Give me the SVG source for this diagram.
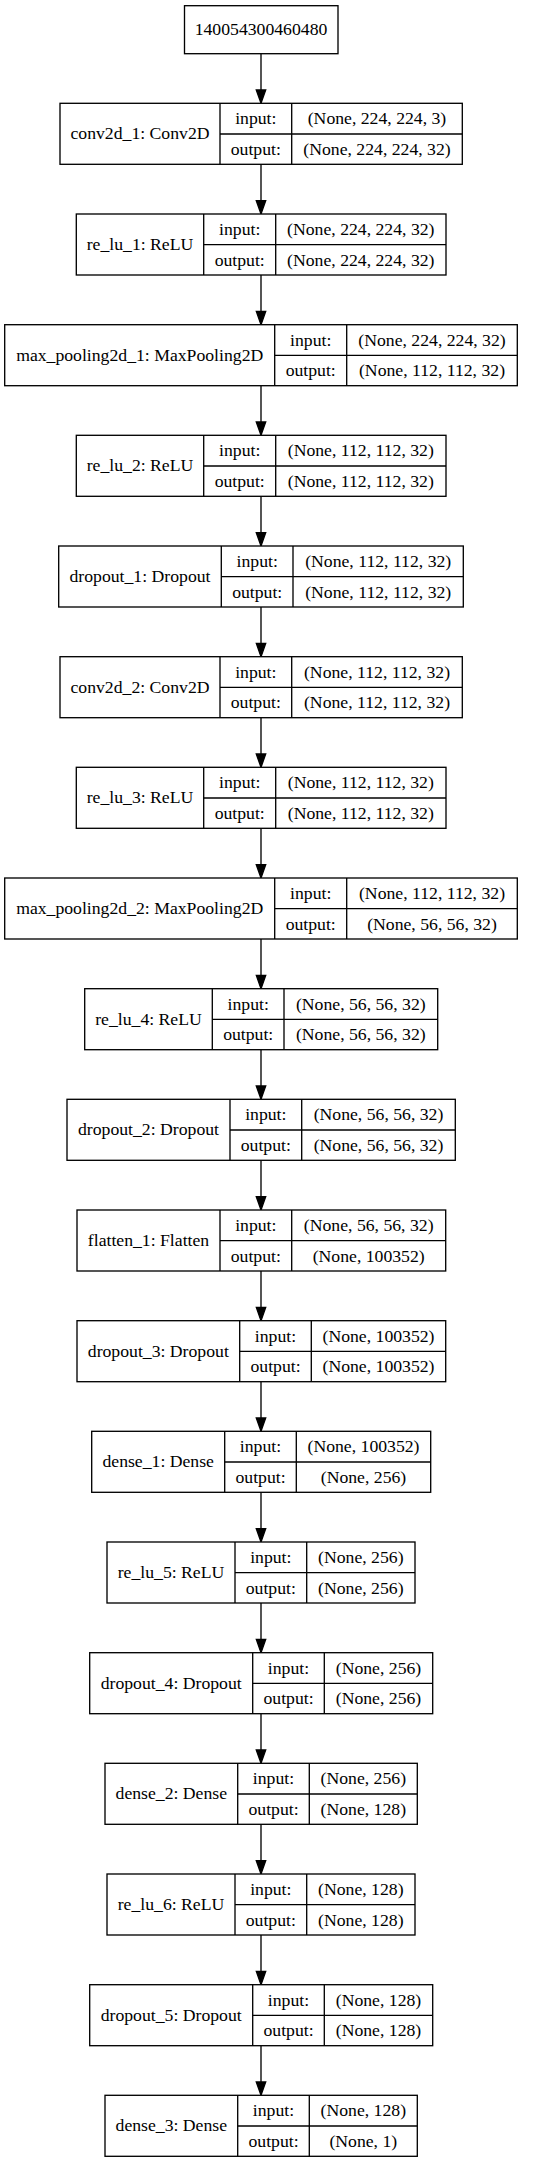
<svg xmlns="http://www.w3.org/2000/svg" width="535" height="2163" viewBox="0 0 535 2163">
<defs>
<style>
rect.b{fill:#fff;stroke:#000;stroke-width:1.33}
line.d{stroke:#000;stroke-width:1.33}
text{font-family:"Liberation Serif","Times New Roman",serif;font-size:17.7px;fill:#000;text-anchor:middle}
.e{stroke:#000;stroke-width:1.33;fill:none}
.a{fill:#000;stroke:#000;stroke-width:1.33}
</style>
</defs>
<rect width="535" height="2163" fill="#fff"/>
<g id="connectors">
<line class="e" x1="261" y1="53.7" x2="261" y2="90"/><polygon class="a" points="256.3,90 261,103.3 265.7,90"/>
<line class="e" x1="261" y1="164.3" x2="261" y2="200.7"/><polygon class="a" points="256.3,200.7 261,214 265.7,200.7"/>
<line class="e" x1="261" y1="275" x2="261" y2="311.3"/><polygon class="a" points="256.3,311.3 261,324.7 265.7,311.3"/>
<line class="e" x1="261" y1="385.7" x2="261" y2="422"/><polygon class="a" points="256.3,422 261,435.3 265.7,422"/>
<line class="e" x1="261" y1="496.3" x2="261" y2="532.7"/><polygon class="a" points="256.3,532.7 261,546 265.7,532.7"/>
<line class="e" x1="261" y1="607" x2="261" y2="643.3"/><polygon class="a" points="256.3,643.3 261,656.7 265.7,643.3"/>
<line class="e" x1="261" y1="717.7" x2="261" y2="754"/><polygon class="a" points="256.3,754 261,767.3 265.7,754"/>
<line class="e" x1="261" y1="828.3" x2="261" y2="864.7"/><polygon class="a" points="256.3,864.7 261,878 265.7,864.7"/>
<line class="e" x1="261" y1="939" x2="261" y2="975.3"/><polygon class="a" points="256.3,975.3 261,988.7 265.7,975.3"/>
<line class="e" x1="261" y1="1049.7" x2="261" y2="1086"/><polygon class="a" points="256.3,1086 261,1099.3 265.7,1086"/>
<line class="e" x1="261" y1="1160.3" x2="261" y2="1196.7"/><polygon class="a" points="256.3,1196.7 261,1210 265.7,1196.7"/>
<line class="e" x1="261" y1="1271" x2="261" y2="1307.3"/><polygon class="a" points="256.3,1307.3 261,1320.7 265.7,1307.3"/>
<line class="e" x1="261" y1="1381.7" x2="261" y2="1418"/><polygon class="a" points="256.3,1418 261,1431.3 265.7,1418"/>
<line class="e" x1="261" y1="1492.3" x2="261" y2="1528.7"/><polygon class="a" points="256.3,1528.7 261,1542 265.7,1528.7"/>
<line class="e" x1="261" y1="1603" x2="261" y2="1639.3"/><polygon class="a" points="256.3,1639.3 261,1652.7 265.7,1639.3"/>
<line class="e" x1="261" y1="1713.7" x2="261" y2="1750"/><polygon class="a" points="256.3,1750 261,1763.3 265.7,1750"/>
<line class="e" x1="261" y1="1824.3" x2="261" y2="1860.7"/><polygon class="a" points="256.3,1860.7 261,1874 265.7,1860.7"/>
<line class="e" x1="261" y1="1935" x2="261" y2="1971.3"/><polygon class="a" points="256.3,1971.3 261,1984.7 265.7,1971.3"/>
<line class="e" x1="261" y1="2045.7" x2="261" y2="2082"/><polygon class="a" points="256.3,2082 261,2095.3 265.7,2082"/>
</g>
<g id="node0">
<rect class="b" x="184.5" y="5.7" width="153.5" height="48"/>
<text x="261" y="35.2">140054300460480</text>
</g>
<g id="node1">
<rect class="b" x="60" y="103.3" width="402.3" height="61"/>
<line class="d" x1="220" y1="103.3" x2="220" y2="164.3"/><line class="d" x1="291.7" y1="103.3" x2="291.7" y2="164.3"/><line class="d" x1="220" y1="134" x2="462.3" y2="134"/>
<text x="140" y="139.2">conv2d_1: Conv2D</text>
<text x="255.8" y="124.2">input:</text><text x="255.8" y="154.9">output:</text>
<text x="377" y="124.2">(None, 224, 224, 3)</text><text x="377" y="154.9">(None, 224, 224, 32)</text>
</g>
<g id="node2">
<rect class="b" x="76.3" y="214" width="369.7" height="61"/>
<line class="d" x1="203.7" y1="214" x2="203.7" y2="275"/><line class="d" x1="275.7" y1="214" x2="275.7" y2="275"/><line class="d" x1="203.7" y1="244.7" x2="446" y2="244.7"/>
<text x="140" y="249.9">re_lu_1: ReLU</text>
<text x="239.7" y="234.8">input:</text><text x="239.7" y="265.5">output:</text>
<text x="360.8" y="234.8">(None, 224, 224, 32)</text><text x="360.8" y="265.5">(None, 224, 224, 32)</text>
</g>
<g id="node3">
<rect class="b" x="4.7" y="324.7" width="512.6" height="61"/>
<line class="d" x1="274.7" y1="324.7" x2="274.7" y2="385.7"/><line class="d" x1="346.7" y1="324.7" x2="346.7" y2="385.7"/><line class="d" x1="274.7" y1="355.3" x2="517.3" y2="355.3"/>
<text x="139.7" y="360.5">max_pooling2d_1: MaxPooling2D</text>
<text x="310.7" y="345.5">input:</text><text x="310.7" y="376.2">output:</text>
<text x="432" y="345.5">(None, 224, 224, 32)</text><text x="432" y="376.2">(None, 112, 112, 32)</text>
</g>
<g id="node4">
<rect class="b" x="76.3" y="435.3" width="369.7" height="61"/>
<line class="d" x1="203.7" y1="435.3" x2="203.7" y2="496.3"/><line class="d" x1="275.7" y1="435.3" x2="275.7" y2="496.3"/><line class="d" x1="203.7" y1="466" x2="446" y2="466"/>
<text x="140" y="471.2">re_lu_2: ReLU</text>
<text x="239.7" y="456.2">input:</text><text x="239.7" y="486.8">output:</text>
<text x="360.8" y="456.2">(None, 112, 112, 32)</text><text x="360.8" y="486.8">(None, 112, 112, 32)</text>
</g>
<g id="node5">
<rect class="b" x="58.7" y="546" width="404.6" height="61"/>
<line class="d" x1="221.3" y1="546" x2="221.3" y2="607"/><line class="d" x1="293" y1="546" x2="293" y2="607"/><line class="d" x1="221.3" y1="576.7" x2="463.3" y2="576.7"/>
<text x="140" y="581.9">dropout_1: Dropout</text>
<text x="257.2" y="566.8">input:</text><text x="257.2" y="597.5">output:</text>
<text x="378.2" y="566.8">(None, 112, 112, 32)</text><text x="378.2" y="597.5">(None, 112, 112, 32)</text>
</g>
<g id="node6">
<rect class="b" x="60" y="656.7" width="402.3" height="61"/>
<line class="d" x1="220" y1="656.7" x2="220" y2="717.7"/><line class="d" x1="291.7" y1="656.7" x2="291.7" y2="717.7"/><line class="d" x1="220" y1="687.3" x2="462.3" y2="687.3"/>
<text x="140" y="692.5">conv2d_2: Conv2D</text>
<text x="255.8" y="677.5">input:</text><text x="255.8" y="708.2">output:</text>
<text x="377" y="677.5">(None, 112, 112, 32)</text><text x="377" y="708.2">(None, 112, 112, 32)</text>
</g>
<g id="node7">
<rect class="b" x="76.3" y="767.3" width="369.7" height="61"/>
<line class="d" x1="203.7" y1="767.3" x2="203.7" y2="828.3"/><line class="d" x1="275.7" y1="767.3" x2="275.7" y2="828.3"/><line class="d" x1="203.7" y1="798" x2="446" y2="798"/>
<text x="140" y="803.2">re_lu_3: ReLU</text>
<text x="239.7" y="788.2">input:</text><text x="239.7" y="818.8">output:</text>
<text x="360.8" y="788.2">(None, 112, 112, 32)</text><text x="360.8" y="818.8">(None, 112, 112, 32)</text>
</g>
<g id="node8">
<rect class="b" x="4.7" y="878" width="512.6" height="61"/>
<line class="d" x1="274.7" y1="878" x2="274.7" y2="939"/><line class="d" x1="346.7" y1="878" x2="346.7" y2="939"/><line class="d" x1="274.7" y1="908.7" x2="517.3" y2="908.7"/>
<text x="139.7" y="913.9">max_pooling2d_2: MaxPooling2D</text>
<text x="310.7" y="898.8">input:</text><text x="310.7" y="929.5">output:</text>
<text x="432" y="898.8">(None, 112, 112, 32)</text><text x="432" y="929.5">(None, 56, 56, 32)</text>
</g>
<g id="node9">
<rect class="b" x="84.7" y="988.7" width="353" height="61"/>
<line class="d" x1="212.3" y1="988.7" x2="212.3" y2="1049.7"/><line class="d" x1="284" y1="988.7" x2="284" y2="1049.7"/><line class="d" x1="212.3" y1="1019.3" x2="437.7" y2="1019.3"/>
<text x="148.5" y="1024.5">re_lu_4: ReLU</text>
<text x="248.2" y="1009.5">input:</text><text x="248.2" y="1040.2">output:</text>
<text x="360.8" y="1009.5">(None, 56, 56, 32)</text><text x="360.8" y="1040.2">(None, 56, 56, 32)</text>
</g>
<g id="node10">
<rect class="b" x="67" y="1099.3" width="388.3" height="61"/>
<line class="d" x1="230" y1="1099.3" x2="230" y2="1160.3"/><line class="d" x1="301.7" y1="1099.3" x2="301.7" y2="1160.3"/><line class="d" x1="230" y1="1130" x2="455.3" y2="1130"/>
<text x="148.5" y="1135.2">dropout_2: Dropout</text>
<text x="265.8" y="1120.2">input:</text><text x="265.8" y="1150.8">output:</text>
<text x="378.5" y="1120.2">(None, 56, 56, 32)</text><text x="378.5" y="1150.8">(None, 56, 56, 32)</text>
</g>
<g id="node11">
<rect class="b" x="77" y="1210" width="368.7" height="61"/>
<line class="d" x1="220" y1="1210" x2="220" y2="1271"/><line class="d" x1="291.7" y1="1210" x2="291.7" y2="1271"/><line class="d" x1="220" y1="1240.7" x2="445.7" y2="1240.7"/>
<text x="148.5" y="1245.9">flatten_1: Flatten</text>
<text x="255.8" y="1230.8">input:</text><text x="255.8" y="1261.5">output:</text>
<text x="368.7" y="1230.8">(None, 56, 56, 32)</text><text x="368.7" y="1261.5">(None, 100352)</text>
</g>
<g id="node12">
<rect class="b" x="77" y="1320.7" width="368.7" height="61"/>
<line class="d" x1="239.7" y1="1320.7" x2="239.7" y2="1381.7"/><line class="d" x1="311.3" y1="1320.7" x2="311.3" y2="1381.7"/><line class="d" x1="239.7" y1="1351.3" x2="445.7" y2="1351.3"/>
<text x="158.3" y="1356.5">dropout_3: Dropout</text>
<text x="275.5" y="1341.5">input:</text><text x="275.5" y="1372.2">output:</text>
<text x="378.5" y="1341.5">(None, 100352)</text><text x="378.5" y="1372.2">(None, 100352)</text>
</g>
<g id="node13">
<rect class="b" x="91.7" y="1431.3" width="339" height="61"/>
<line class="d" x1="224.7" y1="1431.3" x2="224.7" y2="1492.3"/><line class="d" x1="296.3" y1="1431.3" x2="296.3" y2="1492.3"/><line class="d" x1="224.7" y1="1462" x2="430.7" y2="1462"/>
<text x="158.2" y="1467.2">dense_1: Dense</text>
<text x="260.5" y="1452.2">input:</text><text x="260.5" y="1482.8">output:</text>
<text x="363.5" y="1452.2">(None, 100352)</text><text x="363.5" y="1482.8">(None, 256)</text>
</g>
<g id="node14">
<rect class="b" x="107" y="1542" width="308" height="61"/>
<line class="d" x1="235" y1="1542" x2="235" y2="1603"/><line class="d" x1="306.7" y1="1542" x2="306.7" y2="1603"/><line class="d" x1="235" y1="1572.7" x2="415" y2="1572.7"/>
<text x="171" y="1577.9">re_lu_5: ReLU</text>
<text x="270.8" y="1562.8">input:</text><text x="270.8" y="1593.5">output:</text>
<text x="360.8" y="1562.8">(None, 256)</text><text x="360.8" y="1593.5">(None, 256)</text>
</g>
<g id="node15">
<rect class="b" x="89.7" y="1652.7" width="343" height="61"/>
<line class="d" x1="252.7" y1="1652.7" x2="252.7" y2="1713.7"/><line class="d" x1="324.3" y1="1652.7" x2="324.3" y2="1713.7"/><line class="d" x1="252.7" y1="1683.3" x2="432.7" y2="1683.3"/>
<text x="171.2" y="1688.5">dropout_4: Dropout</text>
<text x="288.5" y="1673.5">input:</text><text x="288.5" y="1704.2">output:</text>
<text x="378.5" y="1673.5">(None, 256)</text><text x="378.5" y="1704.2">(None, 256)</text>
</g>
<g id="node16">
<rect class="b" x="105" y="1763.3" width="312.3" height="61"/>
<line class="d" x1="237.7" y1="1763.3" x2="237.7" y2="1824.3"/><line class="d" x1="309.3" y1="1763.3" x2="309.3" y2="1824.3"/><line class="d" x1="237.7" y1="1794" x2="417.3" y2="1794"/>
<text x="171.3" y="1799.2">dense_2: Dense</text>
<text x="273.5" y="1784.2">input:</text><text x="273.5" y="1814.8">output:</text>
<text x="363.3" y="1784.2">(None, 256)</text><text x="363.3" y="1814.8">(None, 128)</text>
</g>
<g id="node17">
<rect class="b" x="107" y="1874" width="308" height="61"/>
<line class="d" x1="235" y1="1874" x2="235" y2="1935"/><line class="d" x1="306.7" y1="1874" x2="306.7" y2="1935"/><line class="d" x1="235" y1="1904.7" x2="415" y2="1904.7"/>
<text x="171" y="1909.9">re_lu_6: ReLU</text>
<text x="270.8" y="1894.8">input:</text><text x="270.8" y="1925.5">output:</text>
<text x="360.8" y="1894.8">(None, 128)</text><text x="360.8" y="1925.5">(None, 128)</text>
</g>
<g id="node18">
<rect class="b" x="89.7" y="1984.7" width="343" height="61"/>
<line class="d" x1="252.7" y1="1984.7" x2="252.7" y2="2045.7"/><line class="d" x1="324.3" y1="1984.7" x2="324.3" y2="2045.7"/><line class="d" x1="252.7" y1="2015.3" x2="432.7" y2="2015.3"/>
<text x="171.2" y="2020.5">dropout_5: Dropout</text>
<text x="288.5" y="2005.5">input:</text><text x="288.5" y="2036.2">output:</text>
<text x="378.5" y="2005.5">(None, 128)</text><text x="378.5" y="2036.2">(None, 128)</text>
</g>
<g id="node19">
<rect class="b" x="105" y="2095.3" width="312.3" height="61"/>
<line class="d" x1="237.7" y1="2095.3" x2="237.7" y2="2156.3"/><line class="d" x1="309.3" y1="2095.3" x2="309.3" y2="2156.3"/><line class="d" x1="237.7" y1="2126" x2="417.3" y2="2126"/>
<text x="171.3" y="2131.2">dense_3: Dense</text>
<text x="273.5" y="2116.2">input:</text><text x="273.5" y="2146.8">output:</text>
<text x="363.3" y="2116.2">(None, 128)</text><text x="363.3" y="2146.8">(None, 1)</text>
</g>
</svg>
